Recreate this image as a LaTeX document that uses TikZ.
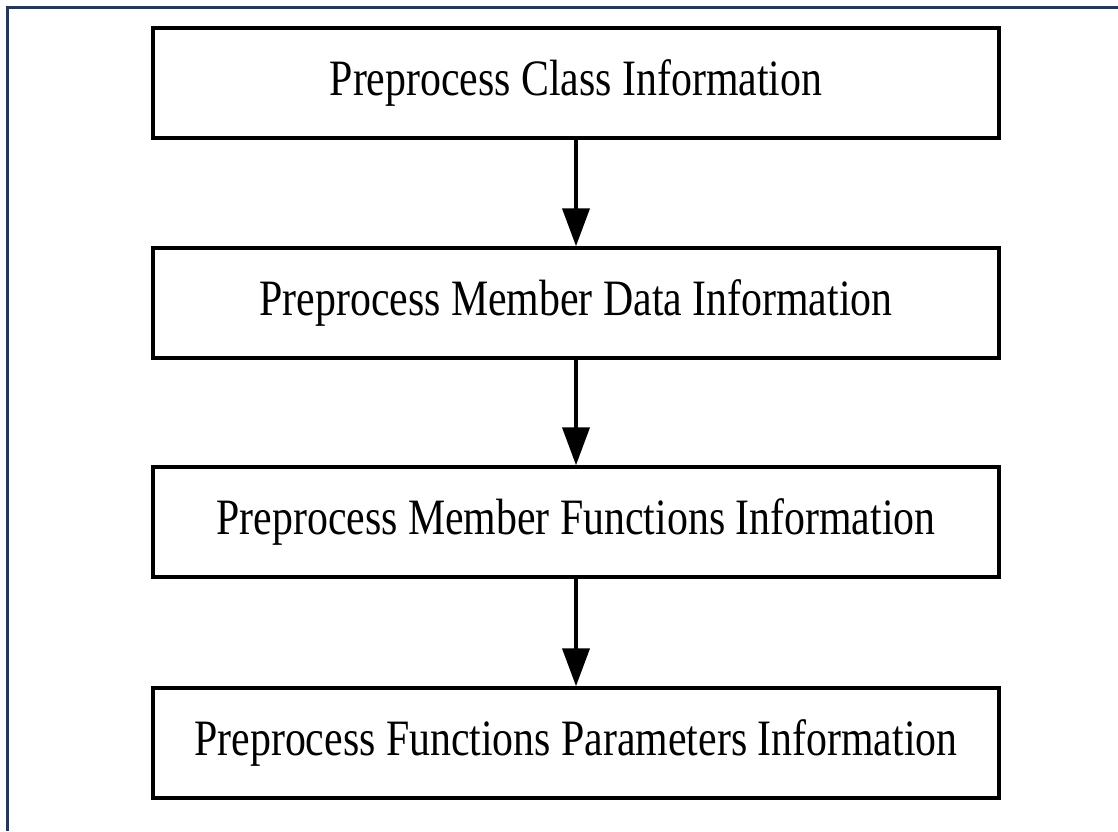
\documentclass[tikz,border=0pt]{standalone}
\usepackage{fontspec}
\setmainfont{Liberation Serif}
\usetikzlibrary{arrows.meta}
\definecolor{framecol}{HTML}{1F3864}
\tikzset{
  stepbox/.style={draw=black, line width=3.5pt, minimum width=846pt, minimum height=110pt, inner sep=0pt, fill=white,
    font=\fontsize{51}{60}\selectfont},
  flowarrow/.style={line width=4pt, -{Triangle[width=27pt,length=38pt]}, shorten >=0pt},
  framestyle/.style={draw=framecol, line width=3pt}
}
\newcommand{\cond}[1]{\scalebox{0.82}[1]{#1}}
\begin{document}
\begin{tikzpicture}[x=1pt,y=-1pt]
\useasboundingbox (0,0) rectangle (1118,831);
\draw[framestyle] (1118,7.5) -| (7.5,831);
\node[stepbox] (b1) at (576,83) {\cond{Preprocess Class Information}};
\node[stepbox] (b2) at (576,303) {\cond{Preprocess Member Data Information}};
\node[stepbox] (b3) at (576,522) {\cond{Preprocess Member Functions Information}};
\node[stepbox] (b4) at (576,743) {\cond{Preprocess Functions Parameters Information}};
\draw[flowarrow] (b1.south) -- (b2.north);
\draw[flowarrow] (b2.south) -- (b3.north);
\draw[flowarrow] (b3.south) -- (b4.north);
\end{tikzpicture}
\end{document}
